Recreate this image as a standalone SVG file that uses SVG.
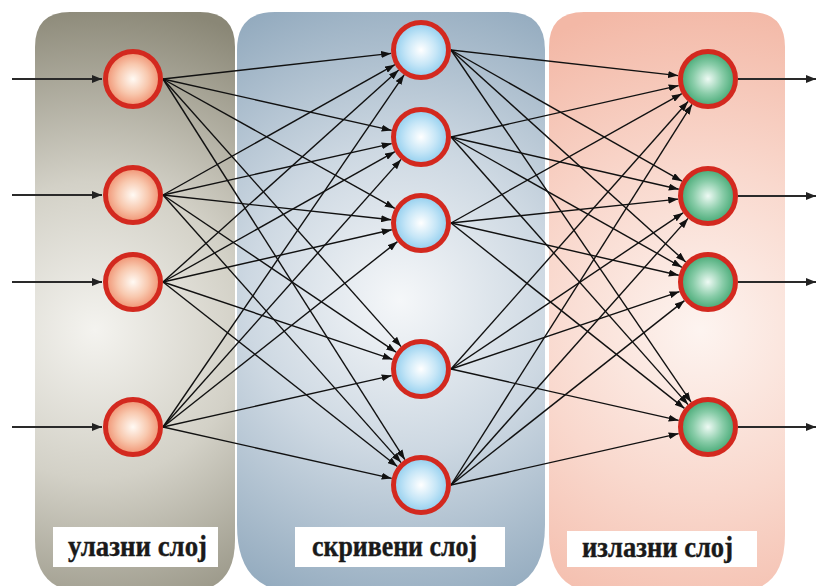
<svg xmlns="http://www.w3.org/2000/svg" width="816" height="586" viewBox="0 0 816 586">
<defs>
<radialGradient id="gLeft" gradientUnits="userSpaceOnUse" cx="95" cy="330" r="330">
<stop offset="0" stop-color="#f4f3ef"/>
<stop offset="0.45" stop-color="#d3d1c7"/>
<stop offset="1" stop-color="#8a8776"/>
</radialGradient>
<radialGradient id="gMid" gradientUnits="userSpaceOnUse" cx="400" cy="300" r="340">
<stop offset="0" stop-color="#f5f7f9"/>
<stop offset="0.45" stop-color="#cdd8e2"/>
<stop offset="1" stop-color="#8ca5ba"/>
</radialGradient>
<radialGradient id="gRight" gradientUnits="userSpaceOnUse" cx="700" cy="330" r="330">
<stop offset="0" stop-color="#fdf4f0"/>
<stop offset="0.5" stop-color="#f9d8cd"/>
<stop offset="1" stop-color="#f3b8a6"/>
</radialGradient>
<radialGradient id="nIn" cx="0.5" cy="0.5" r="0.55">
<stop offset="0" stop-color="#fffaf4"/>
<stop offset="0.5" stop-color="#f8c8ae"/>
<stop offset="1" stop-color="#ee8462"/>
</radialGradient>
<radialGradient id="nHid" cx="0.5" cy="0.5" r="0.55">
<stop offset="0" stop-color="#ffffff"/>
<stop offset="0.5" stop-color="#c6e6f7"/>
<stop offset="1" stop-color="#84c8ec"/>
</radialGradient>
<radialGradient id="nOut" cx="0.5" cy="0.5" r="0.55">
<stop offset="0" stop-color="#eefaf4"/>
<stop offset="0.5" stop-color="#88cca8"/>
<stop offset="1" stop-color="#35a068"/>
</radialGradient>
<marker id="ah" markerUnits="userSpaceOnUse" markerWidth="10" markerHeight="7" refX="10" refY="3.5" orient="auto">
<path d="M0,0 L10,3.5 L0,7 z" fill="#111"/>
</marker>
<marker id="ah2" markerUnits="userSpaceOnUse" markerWidth="10" markerHeight="8" refX="10" refY="4" orient="auto">
<path d="M0,0 L10,4 L0,8 z" fill="#222"/>
</marker>
</defs>
<style>
.node circle{stroke:#d3291f;stroke-width:5}
.in circle{fill:url(#nIn)}
.hid circle{fill:url(#nHid)}
.out circle{fill:url(#nOut)}
#connectors line{stroke:#111;stroke-width:1.4;marker-end:url(#ah)}
#connectors .io{stroke:#2a2a2a;stroke-width:1.8;marker-end:url(#ah2)}
.lbl rect{fill:#ffffff}
.lbl text{font-family:"Liberation Serif","Times New Roman",serif;font-weight:bold;font-size:30px;fill:#1a1a1a;stroke:#1a1a1a;stroke-width:0.4}
</style>
<rect width="816" height="586" fill="#ffffff"/>
<g id="panels">
<path id="panel-input" d="M35,47 Q35,12 70,12 L200,12 Q235,12 235,47 L235,540 Q235,592 185,592 L85,592 Q35,592 35,540 z" fill="url(#gLeft)"/>
<path id="panel-hidden" d="M237,50 Q237,12 275,12 L507,12 Q545,12 545,50 L545,525 Q545,592 485,592 L297,592 Q237,592 237,525 z" fill="url(#gMid)"/>
<path id="panel-output" d="M549,47 Q549,12 584,12 L750,12 Q785,12 785,47 L785,535 Q785,592 735,592 L599,592 Q549,592 549,535 z" fill="url(#gRight)"/>
</g>
<g id="connectors">
<line class="io" x1="12" y1="79" x2="102" y2="79"/>
<line class="io" x1="12" y1="195" x2="102" y2="195"/>
<line class="io" x1="12" y1="282" x2="102" y2="282"/>
<line class="io" x1="12" y1="427" x2="102" y2="427"/>
<line class="io" x1="738" y1="79" x2="816" y2="79"/>
<line class="io" x1="738" y1="196" x2="816" y2="196"/>
<line class="io" x1="738" y1="282" x2="816" y2="282"/>
<line class="io" x1="738" y1="427" x2="816" y2="427"/>
<line x1="163" y1="79" x2="391.2" y2="53.4"/>
<line x1="163" y1="79" x2="391.7" y2="130.4"/>
<line x1="163" y1="79" x2="394.8" y2="208.4"/>
<line x1="163" y1="79" x2="401.1" y2="346.6"/>
<line x1="163" y1="79" x2="404.9" y2="459.7"/>
<line x1="163" y1="195" x2="394.9" y2="64.7"/>
<line x1="163" y1="195" x2="391.7" y2="143.6"/>
<line x1="163" y1="195" x2="391.2" y2="219.8"/>
<line x1="163" y1="195" x2="396.1" y2="352.2"/>
<line x1="163" y1="195" x2="401.1" y2="462.6"/>
<line x1="163" y1="282" x2="398.7" y2="70.1"/>
<line x1="163" y1="282" x2="394.9" y2="151.7"/>
<line x1="163" y1="282" x2="391.8" y2="229.7"/>
<line x1="163" y1="282" x2="392.6" y2="359.4"/>
<line x1="163" y1="282" x2="397.4" y2="466.5"/>
<line x1="163" y1="427" x2="404.1" y2="74.8"/>
<line x1="163" y1="427" x2="401.1" y2="159.4"/>
<line x1="163" y1="427" x2="397.5" y2="241.6"/>
<line x1="163" y1="427" x2="391.7" y2="375.6"/>
<line x1="163" y1="427" x2="391.7" y2="478.4"/>
<line x1="451" y1="50" x2="678.2" y2="75.6"/>
<line x1="451" y1="50" x2="681.9" y2="181.2"/>
<line x1="451" y1="50" x2="685.7" y2="261.9"/>
<line x1="451" y1="50" x2="691.1" y2="402.2"/>
<line x1="451" y1="137" x2="678.7" y2="85.6"/>
<line x1="451" y1="137" x2="678.8" y2="189.3"/>
<line x1="451" y1="137" x2="681.9" y2="267.3"/>
<line x1="451" y1="137" x2="688.1" y2="404.6"/>
<line x1="451" y1="223" x2="681.8" y2="93.7"/>
<line x1="451" y1="223" x2="678.2" y2="199.1"/>
<line x1="451" y1="223" x2="678.8" y2="275.3"/>
<line x1="451" y1="223" x2="684.5" y2="408.4"/>
<line x1="451" y1="369" x2="688.1" y2="101.5"/>
<line x1="451" y1="369" x2="683.1" y2="212.8"/>
<line x1="451" y1="369" x2="679.6" y2="291.6"/>
<line x1="451" y1="369" x2="678.7" y2="420.4"/>
<line x1="451" y1="485" x2="692.0" y2="104.4"/>
<line x1="451" y1="485" x2="688.1" y2="218.4"/>
<line x1="451" y1="485" x2="684.5" y2="300.6"/>
<line x1="451" y1="485" x2="678.7" y2="433.6"/>
</g>
<g id="input-1" class="node in"><circle cx="133" cy="79" r="27.5"/></g>
<g id="input-2" class="node in"><circle cx="133" cy="195" r="27.5"/></g>
<g id="input-3" class="node in"><circle cx="133" cy="282" r="27.5"/></g>
<g id="input-4" class="node in"><circle cx="133" cy="427" r="27.5"/></g>
<g id="hidden-1" class="node hid"><circle cx="421" cy="50" r="27.5"/></g>
<g id="hidden-2" class="node hid"><circle cx="421" cy="137" r="27.5"/></g>
<g id="hidden-3" class="node hid"><circle cx="421" cy="223" r="27.5"/></g>
<g id="hidden-4" class="node hid"><circle cx="421" cy="369" r="27.5"/></g>
<g id="hidden-5" class="node hid"><circle cx="421" cy="485" r="27.5"/></g>
<g id="output-1" class="node out"><circle cx="708" cy="79" r="27.5"/></g>
<g id="output-2" class="node out"><circle cx="708" cy="196" r="27.5"/></g>
<g id="output-3" class="node out"><circle cx="708" cy="282" r="27.5"/></g>
<g id="output-4" class="node out"><circle cx="708" cy="427" r="27.5"/></g>
<g id="label-input" class="lbl">
<rect x="53" y="527" width="165" height="40"/>
<text x="68" y="556" textLength="139" lengthAdjust="spacingAndGlyphs">улазни слој</text>
</g>
<g id="label-hidden" class="lbl">
<rect x="295" y="527" width="210" height="40"/>
<text x="312" y="556" textLength="165" lengthAdjust="spacingAndGlyphs">скривени слој</text>
</g>
<g id="label-output" class="lbl">
<rect x="567" y="531" width="190" height="36"/>
<text x="582" y="557" textLength="151" lengthAdjust="spacingAndGlyphs">излазни слој</text>
</g>
</svg>
